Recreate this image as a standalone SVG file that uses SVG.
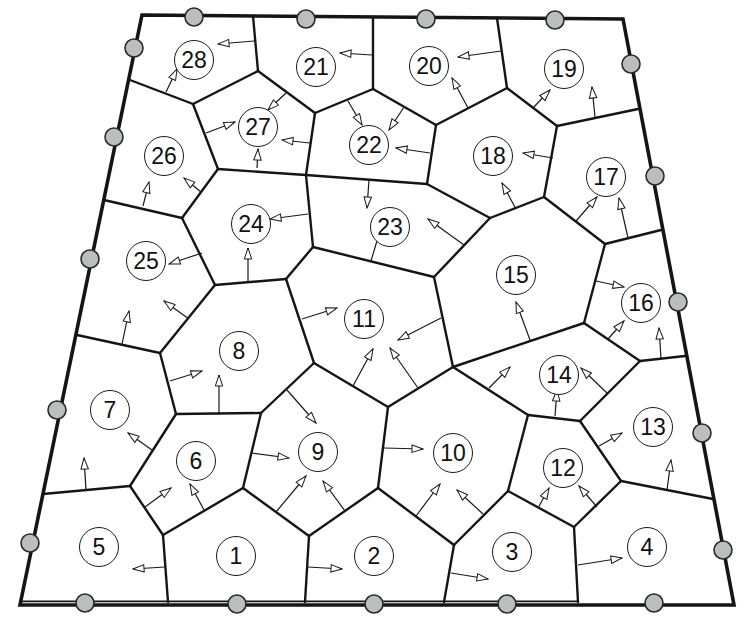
<svg xmlns="http://www.w3.org/2000/svg" width="745" height="624" viewBox="0 0 745 624">
<defs>
<style>
.edge{stroke:#151515;stroke-width:2.4;fill:none;stroke-linecap:round}
.bnd{stroke:#151515;stroke-width:3.6;fill:none;stroke-linejoin:miter}
.arr{stroke:#1a1a1a;stroke-width:1.2;fill:none;marker-end:url(#ah)}
.lab{fill:#fff;stroke:#1a1a1a;stroke-width:1}
.num{font-family:"Liberation Sans",Arial,sans-serif;font-size:23px;fill:#111;text-anchor:middle}
.pin{fill:#bcbebd;stroke:#2a2a2a;stroke-width:1.6}
</style>
<marker id="ah" markerUnits="userSpaceOnUse" markerWidth="13" markerHeight="10" refX="12" refY="4.5" orient="auto">
<path d="M1,0.8 L12,4.5 L1,8.2 Z" fill="#fff" stroke="#1a1a1a" stroke-width="1"/>
</marker>
</defs>
<rect width="745" height="624" fill="#fff"/>
<g id="cell-edges">
<line class="edge" x1="258" y1="71" x2="253" y2="16"/>
<line class="edge" x1="258" y1="71" x2="193" y2="104"/>
<line class="edge" x1="258" y1="71" x2="315" y2="113"/>
<line class="edge" x1="193" y1="104" x2="130" y2="80"/>
<line class="edge" x1="193" y1="104" x2="218" y2="169"/>
<line class="edge" x1="218" y1="169" x2="182" y2="218"/>
<line class="edge" x1="218" y1="169" x2="306" y2="175"/>
<line class="edge" x1="182" y1="218" x2="104" y2="200"/>
<line class="edge" x1="182" y1="218" x2="215" y2="285"/>
<line class="edge" x1="215" y1="285" x2="286" y2="279"/>
<line class="edge" x1="215" y1="285" x2="160" y2="353"/>
<line class="edge" x1="160" y1="353" x2="77" y2="335"/>
<line class="edge" x1="160" y1="353" x2="176" y2="414"/>
<line class="edge" x1="176" y1="414" x2="261" y2="413"/>
<line class="edge" x1="176" y1="414" x2="130" y2="486"/>
<line class="edge" x1="130" y1="486" x2="43" y2="494"/>
<line class="edge" x1="130" y1="486" x2="163" y2="535"/>
<line class="edge" x1="163" y1="535" x2="243" y2="488"/>
<line class="edge" x1="163" y1="535" x2="168" y2="602"/>
<line class="edge" x1="261" y1="413" x2="314" y2="363"/>
<line class="edge" x1="261" y1="413" x2="243" y2="488"/>
<line class="edge" x1="243" y1="488" x2="309" y2="536"/>
<line class="edge" x1="309" y1="536" x2="305" y2="602"/>
<line class="edge" x1="309" y1="536" x2="378" y2="488"/>
<line class="edge" x1="378" y1="488" x2="388" y2="407"/>
<line class="edge" x1="378" y1="488" x2="454" y2="545"/>
<line class="edge" x1="454" y1="545" x2="444" y2="602"/>
<line class="edge" x1="454" y1="545" x2="508" y2="491"/>
<line class="edge" x1="508" y1="491" x2="528" y2="415"/>
<line class="edge" x1="508" y1="491" x2="574" y2="527"/>
<line class="edge" x1="574" y1="527" x2="578" y2="602"/>
<line class="edge" x1="574" y1="527" x2="621" y2="481"/>
<line class="edge" x1="621" y1="481" x2="713" y2="499"/>
<line class="edge" x1="621" y1="481" x2="580" y2="421"/>
<line class="edge" x1="580" y1="421" x2="528" y2="415"/>
<line class="edge" x1="580" y1="421" x2="640" y2="361"/>
<line class="edge" x1="640" y1="361" x2="685" y2="356"/>
<line class="edge" x1="640" y1="361" x2="584" y2="323"/>
<line class="edge" x1="584" y1="323" x2="605" y2="244"/>
<line class="edge" x1="584" y1="323" x2="453" y2="367"/>
<line class="edge" x1="605" y1="244" x2="661" y2="230"/>
<line class="edge" x1="605" y1="244" x2="544" y2="197"/>
<line class="edge" x1="544" y1="197" x2="557" y2="126"/>
<line class="edge" x1="544" y1="197" x2="490" y2="218"/>
<line class="edge" x1="557" y1="126" x2="638" y2="109"/>
<line class="edge" x1="557" y1="126" x2="507" y2="88"/>
<line class="edge" x1="507" y1="88" x2="497" y2="18"/>
<line class="edge" x1="507" y1="88" x2="436" y2="125"/>
<line class="edge" x1="436" y1="125" x2="373" y2="89"/>
<line class="edge" x1="436" y1="125" x2="427" y2="184"/>
<line class="edge" x1="373" y1="89" x2="373" y2="17"/>
<line class="edge" x1="373" y1="89" x2="315" y2="113"/>
<line class="edge" x1="315" y1="113" x2="306" y2="175"/>
<line class="edge" x1="306" y1="175" x2="427" y2="184"/>
<line class="edge" x1="306" y1="175" x2="313" y2="247"/>
<line class="edge" x1="427" y1="184" x2="490" y2="218"/>
<line class="edge" x1="490" y1="218" x2="434" y2="277"/>
<line class="edge" x1="434" y1="277" x2="313" y2="247"/>
<line class="edge" x1="313" y1="247" x2="286" y2="279"/>
<line class="edge" x1="286" y1="279" x2="314" y2="363"/>
<line class="edge" x1="314" y1="363" x2="388" y2="407"/>
<line class="edge" x1="388" y1="407" x2="453" y2="367"/>
<line class="edge" x1="453" y1="367" x2="434" y2="277"/>
<line class="edge" x1="453" y1="367" x2="528" y2="415"/>
</g>
<g id="boundary">
<polygon class="bnd" points="142,15 623,19 734,605 20,605"/>
<line x1="22" y1="601.3" x2="578" y2="601.3" stroke="#151515" stroke-width="1.7"/>
</g>
<g id="connectors">
<line class="arr" x1="254" y1="41" x2="218" y2="44"/>
<line class="arr" x1="166" y1="92" x2="177" y2="69"/>
<line class="arr" x1="206" y1="133" x2="235" y2="122"/>
<line class="arr" x1="201" y1="192" x2="184" y2="178"/>
<line class="arr" x1="143" y1="206" x2="149" y2="182"/>
<line class="arr" x1="372" y1="55" x2="340" y2="53"/>
<line class="arr" x1="501" y1="51" x2="458" y2="57"/>
<line class="arr" x1="468" y1="108" x2="452" y2="78"/>
<line class="arr" x1="286" y1="93" x2="268" y2="110"/>
<line class="arr" x1="348" y1="101" x2="362" y2="125"/>
<line class="arr" x1="404" y1="107" x2="389" y2="130"/>
<line class="arr" x1="430" y1="153" x2="396" y2="148"/>
<line class="arr" x1="310" y1="143" x2="282" y2="140"/>
<line class="arr" x1="257" y1="168" x2="258" y2="149"/>
<line class="arr" x1="369" y1="180" x2="367" y2="208"/>
<line class="arr" x1="533" y1="108" x2="550" y2="90"/>
<line class="arr" x1="595" y1="117" x2="592" y2="87"/>
<line class="arr" x1="553" y1="158" x2="523" y2="153"/>
<line class="arr" x1="516" y1="209" x2="502" y2="183"/>
<line class="arr" x1="576" y1="221" x2="597" y2="197"/>
<line class="arr" x1="628" y1="238" x2="619" y2="198"/>
<line class="arr" x1="202" y1="253" x2="169" y2="264"/>
<line class="arr" x1="248" y1="282" x2="248" y2="248"/>
<line class="arr" x1="189" y1="319" x2="164" y2="301"/>
<line class="arr" x1="122" y1="344" x2="129" y2="311"/>
<line class="arr" x1="170" y1="381" x2="202" y2="371"/>
<line class="arr" x1="219" y1="415" x2="219" y2="375"/>
<line class="arr" x1="308" y1="214" x2="270" y2="219"/>
<line class="arr" x1="371" y1="261" x2="382" y2="224"/>
<line class="arr" x1="464" y1="245" x2="428" y2="219"/>
<line class="arr" x1="302" y1="319" x2="337" y2="308"/>
<line class="arr" x1="441" y1="318" x2="398" y2="340"/>
<line class="arr" x1="353" y1="386" x2="373" y2="349"/>
<line class="arr" x1="418" y1="388" x2="390" y2="348"/>
<line class="arr" x1="287" y1="390" x2="316" y2="423"/>
<line class="arr" x1="596" y1="281" x2="624" y2="287"/>
<line class="arr" x1="608" y1="339" x2="624" y2="321"/>
<line class="arr" x1="661" y1="358" x2="659" y2="328"/>
<line class="arr" x1="530" y1="340" x2="516" y2="302"/>
<line class="arr" x1="607" y1="393" x2="581" y2="368"/>
<line class="arr" x1="555" y1="416" x2="557" y2="390"/>
<line class="arr" x1="489" y1="388" x2="510" y2="367"/>
<line class="arr" x1="145" y1="507" x2="171" y2="488"/>
<line class="arr" x1="204" y1="510" x2="190" y2="484"/>
<line class="arr" x1="152" y1="450" x2="128" y2="433"/>
<line class="arr" x1="86" y1="490" x2="84" y2="458"/>
<line class="arr" x1="165" y1="567" x2="133" y2="569"/>
<line class="arr" x1="252" y1="453" x2="289" y2="458"/>
<line class="arr" x1="276" y1="512" x2="306" y2="476"/>
<line class="arr" x1="345" y1="511" x2="323" y2="481"/>
<line class="arr" x1="384" y1="448" x2="423" y2="449"/>
<line class="arr" x1="416" y1="516" x2="440" y2="484"/>
<line class="arr" x1="483" y1="514" x2="457" y2="490"/>
<line class="arr" x1="308" y1="567" x2="342" y2="569"/>
<line class="arr" x1="451" y1="573" x2="488" y2="579"/>
<line class="arr" x1="599" y1="446" x2="622" y2="433"/>
<line class="arr" x1="667" y1="490" x2="671" y2="460"/>
<line class="arr" x1="538" y1="508" x2="549" y2="488"/>
<line class="arr" x1="597" y1="507" x2="579" y2="486"/>
<line class="arr" x1="578" y1="565" x2="622" y2="558"/>
</g>
<g id="pins">
<circle class="pin" cx="194" cy="17" r="9"/>
<circle class="pin" cx="306" cy="19" r="9"/>
<circle class="pin" cx="426" cy="19" r="9"/>
<circle class="pin" cx="555" cy="20" r="9"/>
<circle class="pin" cx="134" cy="48" r="9"/>
<circle class="pin" cx="114" cy="137" r="9"/>
<circle class="pin" cx="90" cy="259" r="9"/>
<circle class="pin" cx="57" cy="410" r="9"/>
<circle class="pin" cx="30" cy="543" r="9"/>
<circle class="pin" cx="85" cy="603" r="9"/>
<circle class="pin" cx="237" cy="604" r="9"/>
<circle class="pin" cx="374" cy="604" r="9"/>
<circle class="pin" cx="507" cy="604" r="9"/>
<circle class="pin" cx="654" cy="603" r="9"/>
<circle class="pin" cx="631" cy="64" r="9"/>
<circle class="pin" cx="655" cy="176" r="9"/>
<circle class="pin" cx="678" cy="302" r="9"/>
<circle class="pin" cx="702" cy="433" r="9"/>
<circle class="pin" cx="723" cy="550" r="9"/>
</g>
<g id="n28"><circle class="lab" cx="194" cy="60" r="19.5"/><text class="num" x="194" y="68">28</text></g>
<g id="n21"><circle class="lab" cx="316" cy="67" r="19.5"/><text class="num" x="316" y="75">21</text></g>
<g id="n20"><circle class="lab" cx="429" cy="66" r="19.5"/><text class="num" x="429" y="74">20</text></g>
<g id="n19"><circle class="lab" cx="564" cy="69" r="19.5"/><text class="num" x="564" y="77">19</text></g>
<g id="n27"><circle class="lab" cx="258" cy="127" r="19.5"/><text class="num" x="258" y="135">27</text></g>
<g id="n22"><circle class="lab" cx="369" cy="145" r="19.5"/><text class="num" x="369" y="153">22</text></g>
<g id="n26"><circle class="lab" cx="164" cy="156" r="19.5"/><text class="num" x="164" y="164">26</text></g>
<g id="n18"><circle class="lab" cx="493" cy="156" r="19.5"/><text class="num" x="493" y="164">18</text></g>
<g id="n17"><circle class="lab" cx="606" cy="177" r="19.5"/><text class="num" x="606" y="185">17</text></g>
<g id="n24"><circle class="lab" cx="251" cy="224" r="19.5"/><text class="num" x="251" y="232">24</text></g>
<g id="n23"><circle class="lab" cx="390" cy="227" r="19.5"/><text class="num" x="390" y="235">23</text></g>
<g id="n25"><circle class="lab" cx="146" cy="261" r="19.5"/><text class="num" x="146" y="269">25</text></g>
<g id="n15"><circle class="lab" cx="516" cy="275" r="19.5"/><text class="num" x="516" y="283">15</text></g>
<g id="n16"><circle class="lab" cx="641" cy="303" r="19.5"/><text class="num" x="641" y="311">16</text></g>
<g id="n11"><circle class="lab" cx="364" cy="319" r="19.5"/><text class="num" x="364" y="327">11</text></g>
<g id="n8"><circle class="lab" cx="239" cy="351" r="19.5"/><text class="num" x="239" y="359">8</text></g>
<g id="n14"><circle class="lab" cx="559" cy="375" r="19.5"/><text class="num" x="559" y="383">14</text></g>
<g id="n7"><circle class="lab" cx="110" cy="410" r="19.5"/><text class="num" x="110" y="418">7</text></g>
<g id="n13"><circle class="lab" cx="653" cy="427" r="19.5"/><text class="num" x="653" y="435">13</text></g>
<g id="n9"><circle class="lab" cx="318" cy="452" r="19.5"/><text class="num" x="318" y="460">9</text></g>
<g id="n10"><circle class="lab" cx="453" cy="453" r="19.5"/><text class="num" x="453" y="461">10</text></g>
<g id="n6"><circle class="lab" cx="196" cy="461" r="19.5"/><text class="num" x="196" y="469">6</text></g>
<g id="n12"><circle class="lab" cx="563" cy="468" r="19.5"/><text class="num" x="563" y="476">12</text></g>
<g id="n5"><circle class="lab" cx="99" cy="547" r="19.5"/><text class="num" x="99" y="555">5</text></g>
<g id="n1"><circle class="lab" cx="236" cy="556" r="19.5"/><text class="num" x="236" y="564">1</text></g>
<g id="n2"><circle class="lab" cx="374" cy="556" r="19.5"/><text class="num" x="374" y="564">2</text></g>
<g id="n3"><circle class="lab" cx="512" cy="552" r="19.5"/><text class="num" x="512" y="560">3</text></g>
<g id="n4"><circle class="lab" cx="647" cy="547" r="19.5"/><text class="num" x="647" y="555">4</text></g>
</svg>
